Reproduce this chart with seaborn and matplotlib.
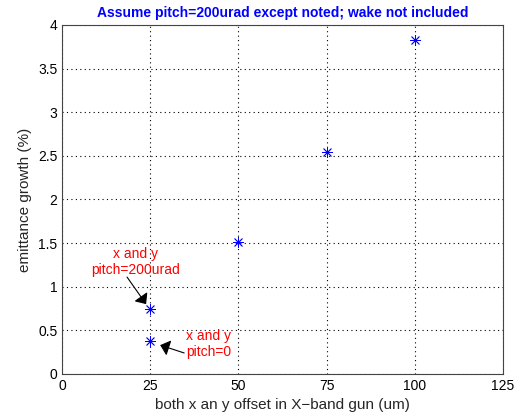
import matplotlib
matplotlib.use("Agg")
import matplotlib.pyplot as plt
import seaborn as sns
import pandas as pd

offset_um = [25, 25, 50, 75, 100]
growth_pct = [0.38, 0.74, 1.51, 2.54, 3.83]

df = pd.DataFrame({"offset": offset_um, "growth": growth_pct})

sns.set_style("white")
plt.rcParams["font.family"] = ["Liberation Sans", "DejaVu Sans"]

fig = plt.figure(figsize=(5.18, 4.15), dpi=100)
ax = fig.add_axes([0.12, 0.099, 0.851, 0.841])

sns.scatterplot(data=df, x="offset", y="growth", ax=ax, marker=(8, 2, 0),
                s=55, color="blue", linewidth=0.6, edgecolor="blue", zorder=3)

ax.set_xlim(0, 125)
ax.set_ylim(0, 4)
ax.set_xticks([0, 25, 50, 75, 100, 125])
ax.set_yticks([0, 0.5, 1, 1.5, 2, 2.5, 3, 3.5, 4])
ax.set_yticklabels(["0", "0.5", "1", "1.5", "2", "2.5", "3", "3.5", "4"])
ax.grid(True, linestyle=(0, (1, 3)), color="black", linewidth=0.8)
ax.tick_params(direction="in", length=4, labelsize=10, colors="black")
for s in ax.spines.values():
    s.set_color("#444444")
    s.set_linewidth(0.8)

ax.set_xlabel("both x an y offset in X\u2212band gun (um)", fontsize=11)
ax.set_ylabel("emittance growth (%)", fontsize=11)
ax.set_title("Assume pitch=200urad except noted; wake not included",
             color="blue", fontsize=10, fontweight="bold", pad=6)

ax.text(20.7, 1.28, "x and y\npitch=200urad", ha="center", va="center",
        color="red", fontsize=10)
ax.annotate("", xy=(23.8, 0.80), xytext=(18.4, 1.11),
            arrowprops=dict(arrowstyle="-|>,head_width=0.35", color="black",
                            lw=0.8, mutation_scale=14, shrinkA=0, shrinkB=0))
ax.text(35.2, 0.34, "x and y\npitch=0", ha="left", va="center",
        color="red", fontsize=10)
ax.annotate("", xy=(27.8, 0.33), xytext=(34.6, 0.24),
            arrowprops=dict(arrowstyle="-|>,head_width=0.35", color="black",
                            lw=0.8, mutation_scale=14, shrinkA=0, shrinkB=0))

fig.savefig("out.png", dpi=100)
